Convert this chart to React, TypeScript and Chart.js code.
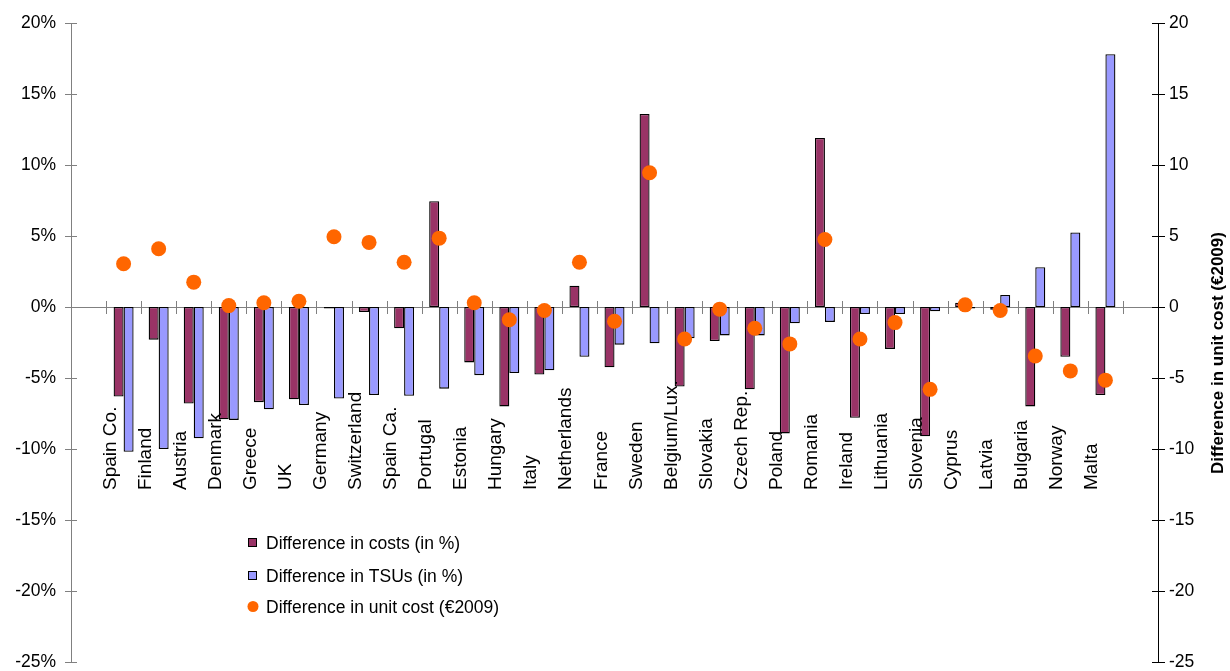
import React, { useEffect, useRef } from 'react';
import { Chart, registerables } from 'chart.js';

Chart.register(...registerables);

// Countries, in plotting order
const countries = [
  'Spain Co.', 'Finland', 'Austria', 'Denmark', 'Greece', 'UK', 'Germany',
  'Switzerland', 'Spain Ca.', 'Portugal', 'Estonia', 'Hungary', 'Italy',
  'Netherlands', 'France', 'Sweden', 'Belgium/Lux.', 'Slovakia', 'Czech Rep.',
  'Poland', 'Romania', 'Ireland', 'Lithuania', 'Slovenia', 'Cyprus', 'Latvia',
  'Bulgaria', 'Norway', 'Malta',
];

// Difference in costs (in %)
const costDiff = [
  -6.3, -2.3, -6.8, -7.9, -6.7, -6.5, -0.1, -0.35, -1.5, 7.45, -3.9, -7.0,
  -4.75, 1.5, -4.25, 13.6, -5.6, -2.4, -5.8, -8.9, 11.9, -7.8, -2.95, -9.1,
  0.3, -0.2, -7.0, -3.5, -6.2,
];

// Difference in TSUs (in %)
const tsuDiff = [
  -10.2, -10.0, -9.25, -7.95, -7.2, -6.9, -6.45, -6.2, -6.25, -5.75, -4.8,
  -4.65, -4.45, -3.5, -2.65, -2.55, -2.2, -2.0, -2.0, -1.15, -1.05, -0.5,
  -0.5, -0.3, -0.1, 0.85, 2.8, 5.25, 17.8,
];

// Difference in unit cost (EUR 2009), right axis
const unitCostDiff = [
  3.05, 4.1, 1.75, 0.1, 0.3, 0.4, 4.95, 4.55, 3.15, 4.85, 0.3, -0.9, -0.25,
  3.15, -1.0, 9.45, -2.25, -0.15, -1.5, -2.6, 4.75, -2.25, -1.1, -5.8, 0.15,
  -0.25, -3.45, -4.5, -5.15,
];

const axisMin = -25;
const axisMax = 20;
const axisStep = 5;

const legendLabels = [
  'Difference in costs (in %)',
  'Difference in TSUs (in %)',
  'Difference in unit cost (€2009)',
];
const rightTitle = 'Difference in unit cost (€2009)';

const FONT = '"Liberation Sans", Arial, sans-serif';
const MAROON = '#993366';
const LILAC = '#9999FF';
const ORANGE = '#FF6600';

// Empty slot at each end of the category axis
const slotLabels = ['', ...countries, ''];
const padded = (arr: number[]) => [null, ...arr, null];

const decorations = {
  id: 'decorations',
  beforeDatasetsDraw(chart: any) {
    const { ctx, chartArea, scales } = chart;
    const y = scales.y;
    const y2 = scales.y2;
    const y0 = y.getPixelForValue(0);
    ctx.save();
    // zero line
    ctx.strokeStyle = '#808080';
    ctx.lineWidth = 1;
    ctx.beginPath();
    ctx.moveTo(chartArea.left, Math.round(y0) + 0.5);
    ctx.lineTo(chartArea.right, Math.round(y0) + 0.5);
    ctx.stroke();
    // category boundary ticks
    const n = slotLabels.length;
    const slotW = (chartArea.right - chartArea.left) / n;
    ctx.beginPath();
    for (let k = 1; k < n; k++) {
      const x = Math.round(chartArea.left + k * slotW) + 0.5;
      ctx.moveTo(x, y0 - 6);
      ctx.lineTo(x, y0 + 7);
    }
    ctx.stroke();
    // value-axis tick marks crossing the axis lines
    for (let v = axisMin; v <= axisMax; v += axisStep) {
      const py = Math.round(y.getPixelForValue(v)) + 0.5;
      ctx.strokeStyle = '#808080';
      ctx.beginPath();
      ctx.moveTo(chartArea.left - 6, py);
      ctx.lineTo(chartArea.left + 6, py);
      ctx.stroke();
      const py2 = Math.round(y2.getPixelForValue(v)) + 0.5;
      ctx.strokeStyle = '#000';
      ctx.beginPath();
      ctx.moveTo(chartArea.right - 6, py2);
      ctx.lineTo(chartArea.right + 7, py2);
      ctx.stroke();
    }
    ctx.restore();
  },
  afterDatasetsDraw(chart: any) {
    const { ctx, scales } = chart;
    const xs = scales.x;
    ctx.save();
    ctx.fillStyle = '#000';
    ctx.font = `19px ${FONT}`;
    ctx.textAlign = 'left';
    ctx.textBaseline = 'alphabetic';
    countries.forEach((name, i) => {
      const cx = xs.getPixelForValue(i + 1);
      ctx.save();
      ctx.translate(cx - 8, 490);
      ctx.rotate(-Math.PI / 2);
      ctx.fillText(name, 0, 0);
      ctx.restore();
    });
    ctx.restore();
  },
  afterDraw(chart: any) {
    const { ctx } = chart;
    ctx.save();
    // right axis title
    ctx.font = `bold 17px ${FONT}`;
    ctx.fillStyle = '#000';
    ctx.textAlign = 'center';
    ctx.textBaseline = 'alphabetic';
    ctx.save();
    ctx.translate(1223, 353);
    ctx.rotate(-Math.PI / 2);
    ctx.fillText(rightTitle, 0, 0);
    ctx.restore();

    // legend
    const ds = chart.data.datasets;
    const rows = [549, 582, 613];
    ctx.font = `17.5px ${FONT}`;
    ctx.textAlign = 'left';
    ds.forEach((d: any, i: number) => {
      const by = rows[i];
      if (d.type === 'line') {
        ctx.fillStyle = d.pointBackgroundColor;
        ctx.beginPath();
        ctx.arc(253, by - 6.5, 5.5, 0, Math.PI * 2);
        ctx.fill();
      } else {
        ctx.fillStyle = d.backgroundColor;
        ctx.fillRect(248.5, by - 10.5, 8, 8);
        ctx.strokeStyle = '#000';
        ctx.lineWidth = 1;
        ctx.strokeRect(248.5, by - 10.5, 8, 8);
      }
      ctx.fillStyle = '#000';
      ctx.fillText(d.label, 266, by);
    });
    ctx.restore();
  },
};

export default function App() {
  const canvasRef = useRef<HTMLCanvasElement | null>(null);

  useEffect(() => {
    const canvas = canvasRef.current;
    if (!canvas) return;
    const chart = new Chart(canvas, {
      type: 'bar',
      data: {
        labels: slotLabels,
        datasets: [
          {
            type: 'bar',
            label: legendLabels[0],
            data: padded(costDiff),
            yAxisID: 'y',
            backgroundColor: MAROON,
            borderColor: '#000',
            borderWidth: 1.3,
            borderSkipped: false,
            categoryPercentage: 0.57,
            barPercentage: 1.0,
            order: 1,
          },
          {
            type: 'bar',
            label: legendLabels[1],
            data: padded(tsuDiff),
            yAxisID: 'y',
            backgroundColor: LILAC,
            borderColor: '#000',
            borderWidth: 1.3,
            borderSkipped: false,
            categoryPercentage: 0.57,
            barPercentage: 1.0,
            order: 1,
          },
          {
            type: 'line',
            label: legendLabels[2],
            data: padded(unitCostDiff),
            yAxisID: 'y2',
            showLine: false,
            pointRadius: 7.5,
            pointHoverRadius: 7.5,
            pointBackgroundColor: ORANGE,
            pointBorderWidth: 0,
            borderColor: ORANGE,
            order: 0,
          } as any,
        ],
      },
      options: {
        animation: false,
        responsive: false,
        maintainAspectRatio: false,
        events: [],
        layout: { padding: { top: 23, bottom: 9, left: 0, right: 0 } },
        plugins: {
          legend: { display: false },
          tooltip: { enabled: false },
          title: { display: false },
        },
        scales: {
          x: {
            type: 'category',
            display: false,
            offset: true,
            grid: { display: false },
          },
          y: {
            position: 'left',
            min: axisMin,
            max: axisMax,
            grid: { display: false },
            border: { display: true, color: '#808080', width: 1 },
            ticks: {
              stepSize: axisStep,
              padding: 7,
              color: '#000',
              font: { family: FONT, size: 17.5 },
              callback: (v: any) => `${v}%`,
            },
            afterFit: (s: any) => {
              s.width = 71;
              s.paddingTop = 0;
              s.paddingBottom = 0;
            },
          },
          y2: {
            position: 'right',
            min: axisMin,
            max: axisMax,
            grid: { display: false },
            border: { display: true, color: '#000', width: 1 },
            ticks: {
              stepSize: axisStep,
              padding: 3,
              color: '#000',
              font: { family: FONT, size: 17.5 },
            },
            afterFit: (s: any) => {
              s.width = 72;
              s.paddingTop = 0;
              s.paddingBottom = 0;
            },
          },
        },
      },
      plugins: [decorations],
    });
    return () => chart.destroy();
  }, []);

  return (
    <div style={{ position: 'absolute', left: 0, top: 0, width: 1230, height: 671, background: '#fff' }}>
      <canvas ref={canvasRef} width={1230} height={671} style={{ display: 'block', width: 1230, height: 671 }} />
    </div>
  );
}
